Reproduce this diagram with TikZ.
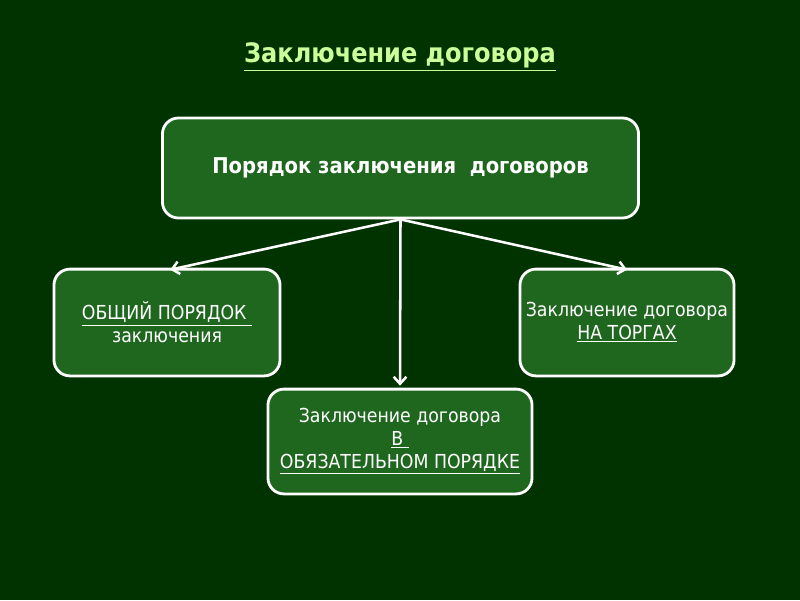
\documentclass[tikz,border=0pt]{standalone}
\usepackage{fontspec}
\setmainfont{DejaVu Sans Condensed}
\usepackage{tikz}
\usetikzlibrary{arrows.meta}
\definecolor{bgdark}{HTML}{003300}
\definecolor{boxgreen}{HTML}{1F671F}
\definecolor{titlegreen}{HTML}{CCFF99}
\tikzset{
  orderbox/.style={draw=white,fill=boxgreen,line width=2pt,rounded corners=0.4cm,
    text=white,align=center,font=\fontsize{13.7}{16.2}\selectfont,inner sep=2pt},
  orderarrow/.style={-{Straight Barb[length=5pt,width=9pt]},draw=white,line width=1.8pt},
  every picture/.style={font=\small}
}

\begin{document}
\begin{tikzpicture}[x=0.025cm,y=-0.025cm]
  \fill[bgdark] (0,0) rectangle (800,600);
  \useasboundingbox (0,0) rectangle (800,600);
  \node[text=titlegreen,font=\bfseries\fontsize{19}{22}\selectfont] (title) at (400,57)
    {\underline{Заключение договора}};
  \node[orderbox,font=\bfseries\fontsize{15.5}{18}\selectfont,
    minimum width=11.9cm,minimum height=2.5cm] (main) at (400.5,168)
    {Порядок заключения \ договоров};
  \node[orderbox,minimum width=5.65cm,minimum height=2.67cm] (general) at (167,322.5)
    {\underline{ОБЩИЙ ПОРЯДОК\ }\\заключения};
  \node[orderbox,minimum width=5.35cm,minimum height=2.67cm] (auction) at (627,322.5)
    {Заключение договора\\\underline{НА ТОРГАХ}};
  \node[orderbox,minimum width=6.6cm,minimum height=2.62cm] (mandatory) at (400,441.5)
    {Заключение договора\\\underline{В\ }\\\underline{ОБЯЗАТЕЛЬНОМ ПОРЯДКЕ}};
  \draw[orderarrow] (main.south) -- ([xshift=0.08cm,yshift=-0.05cm]general.north);
  \draw[orderarrow] (main.south) -- ([yshift=-0.05cm]auction.north);
  \draw[orderarrow] (main.south) -- ([yshift=0.05cm]mandatory.north);
\end{tikzpicture}
\end{document}
